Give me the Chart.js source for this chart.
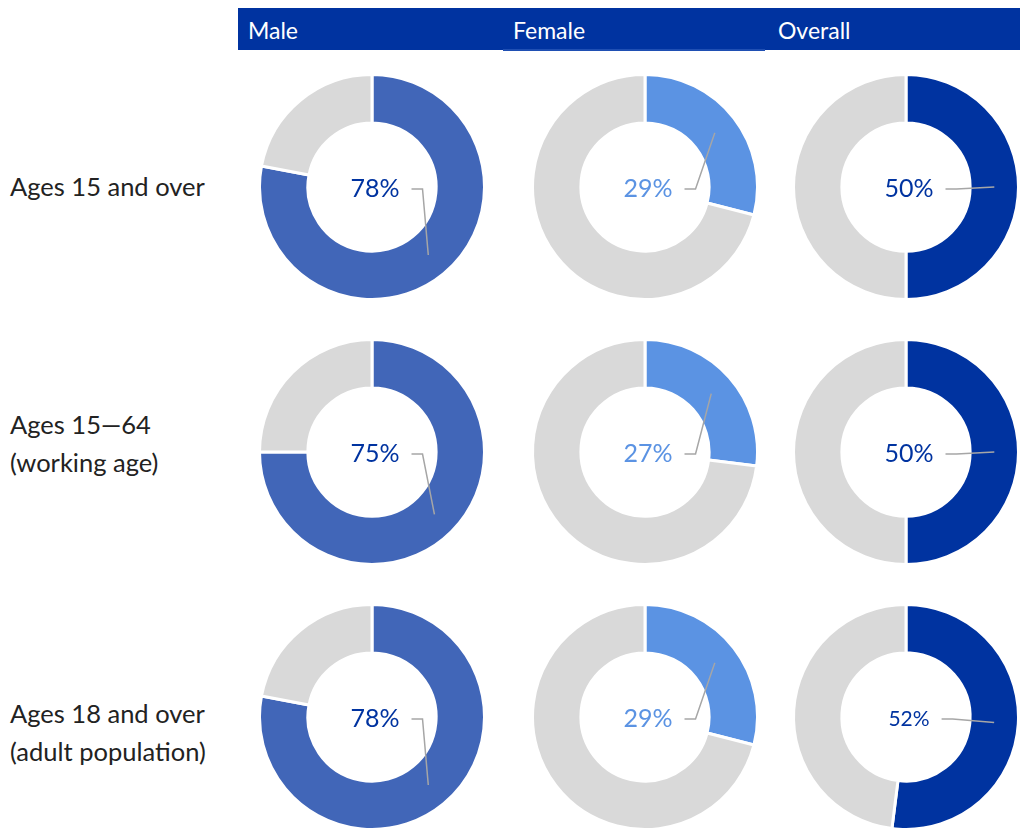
<!DOCTYPE html>
<html>
<head>
<meta charset="utf-8">
<script src="https://cdn.jsdelivr.net/npm/chart.js@4"></script>
<style>
  body { margin: 0; width: 1020px; height: 829px; background: #fff; position: relative; overflow: hidden; font-family: Lato, "Open Sans", sans-serif; }
  .header { position: absolute; left: 238px; top: 8px; width: 782px; height: 42px; background: #0033a0; }
  .header span { position: absolute; top: 8px; color: #fff; font-size: 23px; }
  .header .under { position: absolute; left: 265px; top: 41px; width: 262px; height: 2px; background: #1f4fb3; }
  .rowlabel { position: absolute; left: 10px; color: #222; font-size: 25.5px; line-height: 38px; }
  canvas { position: absolute; }
</style>
</head>
<body>
<div class="header" id="header"><div class="under"></div></div>

<script>
document.addEventListener("DOMContentLoaded", () => {
    // Column headings and row labels
    const columns = ["Male", "Female", "Overall"];
    const rowLabels = [
        ["Ages 15 and over"],
        ["Ages 15\u201464", "(working age)"],
        ["Ages 18 and over", "(adult population)"]
    ];

    // Share (%) for each age group, per column
    const maleShare = [78, 75, 78];
    const femaleShare = [29, 27, 29];
    const overallShare = [50, 50, 52];

    const series = [maleShare, femaleShare, overallShare];
    const colors = ["#4166b8", "#5b93e3", "#0033a0"];
    const labelColors = ["#0033a0", "#5b93e3", "#0033a0"];
    const restColor = "#d9d9d9";

    // layout of the grid
    const colX = [372, 645, 906];
    const rowY = [187, 452, 717];
    const headerX = [10, 275, 540];
    const labelTop = [167, 405, 694];
    const size = 232;

    const header = document.getElementById("header");
    columns.forEach((name, i) => {
        const s = document.createElement("span");
        s.textContent = name;
        s.style.left = headerX[i] + "px";
        header.appendChild(s);
    });

    rowLabels.forEach((lines, r) => {
        const d = document.createElement("div");
        d.className = "rowlabel";
        d.style.top = labelTop[r] + "px";
        d.innerHTML = lines.join("<br>");
        document.body.appendChild(d);
    });

    // Draws the percentage in the hole with a leader line out to the slice
    const leaderLabel = {
        id: "leaderLabel",
        afterDatasetsDraw(chart, args, opts) {
            const arc = chart.getDatasetMeta(0).data[0];
            const c = chart.ctx;
            const value = chart.data.datasets[0].data[0];
            const tx = arc.x + 3;
            const ty = arc.y + 2;
            c.save();
            c.font = opts.fontSize + "px Lato, 'Open Sans', sans-serif";
            c.fillStyle = opts.color;
            c.textAlign = "center";
            c.textBaseline = "middle";
            c.fillText(value + "%", tx, ty);
            const w = c.measureText(value + "%").width;
            const end = arc.tooltipPosition();
            const sx = tx + w / 2 + 12;
            c.strokeStyle = "#a6a6a6";
            c.lineWidth = 1.5;
            c.beginPath();
            c.moveTo(sx, ty);
            c.lineTo(sx + 11, ty);
            c.lineTo(end.x, end.y);
            c.stroke();
            c.restore();
        }
    };

    series.forEach((values, col) => {
        values.forEach((v, row) => {
            const canvas = document.createElement("canvas");
            canvas.width = size;
            canvas.height = size;
            canvas.style.left = (colX[col] - size / 2) + "px";
            canvas.style.top = (rowY[row] - size / 2) + "px";
            document.body.appendChild(canvas);

            new Chart(canvas.getContext("2d"), {
                type: "doughnut",
                data: {
                    labels: [columns[col], "Other"],
                    datasets: [{
                        data: [v, 100 - v],
                        backgroundColor: [colors[col], restColor],
                        borderColor: "#ffffff",
                        borderWidth: 3
                    }]
                },
                options: {
                    responsive: false,
                    animation: false,
                    cutout: "57%",
                    layout: { padding: 2 },
                    plugins: {
                        legend: { display: false },
                        tooltip: { enabled: false },
                        leaderLabel: {
                            color: labelColors[col],
                            fontSize: (row === 2 && col === 2) ? 21 : 25
                        }
                    }
                },
                plugins: [leaderLabel]
            });
        });
    });
});
</script>
</body>
</html>
